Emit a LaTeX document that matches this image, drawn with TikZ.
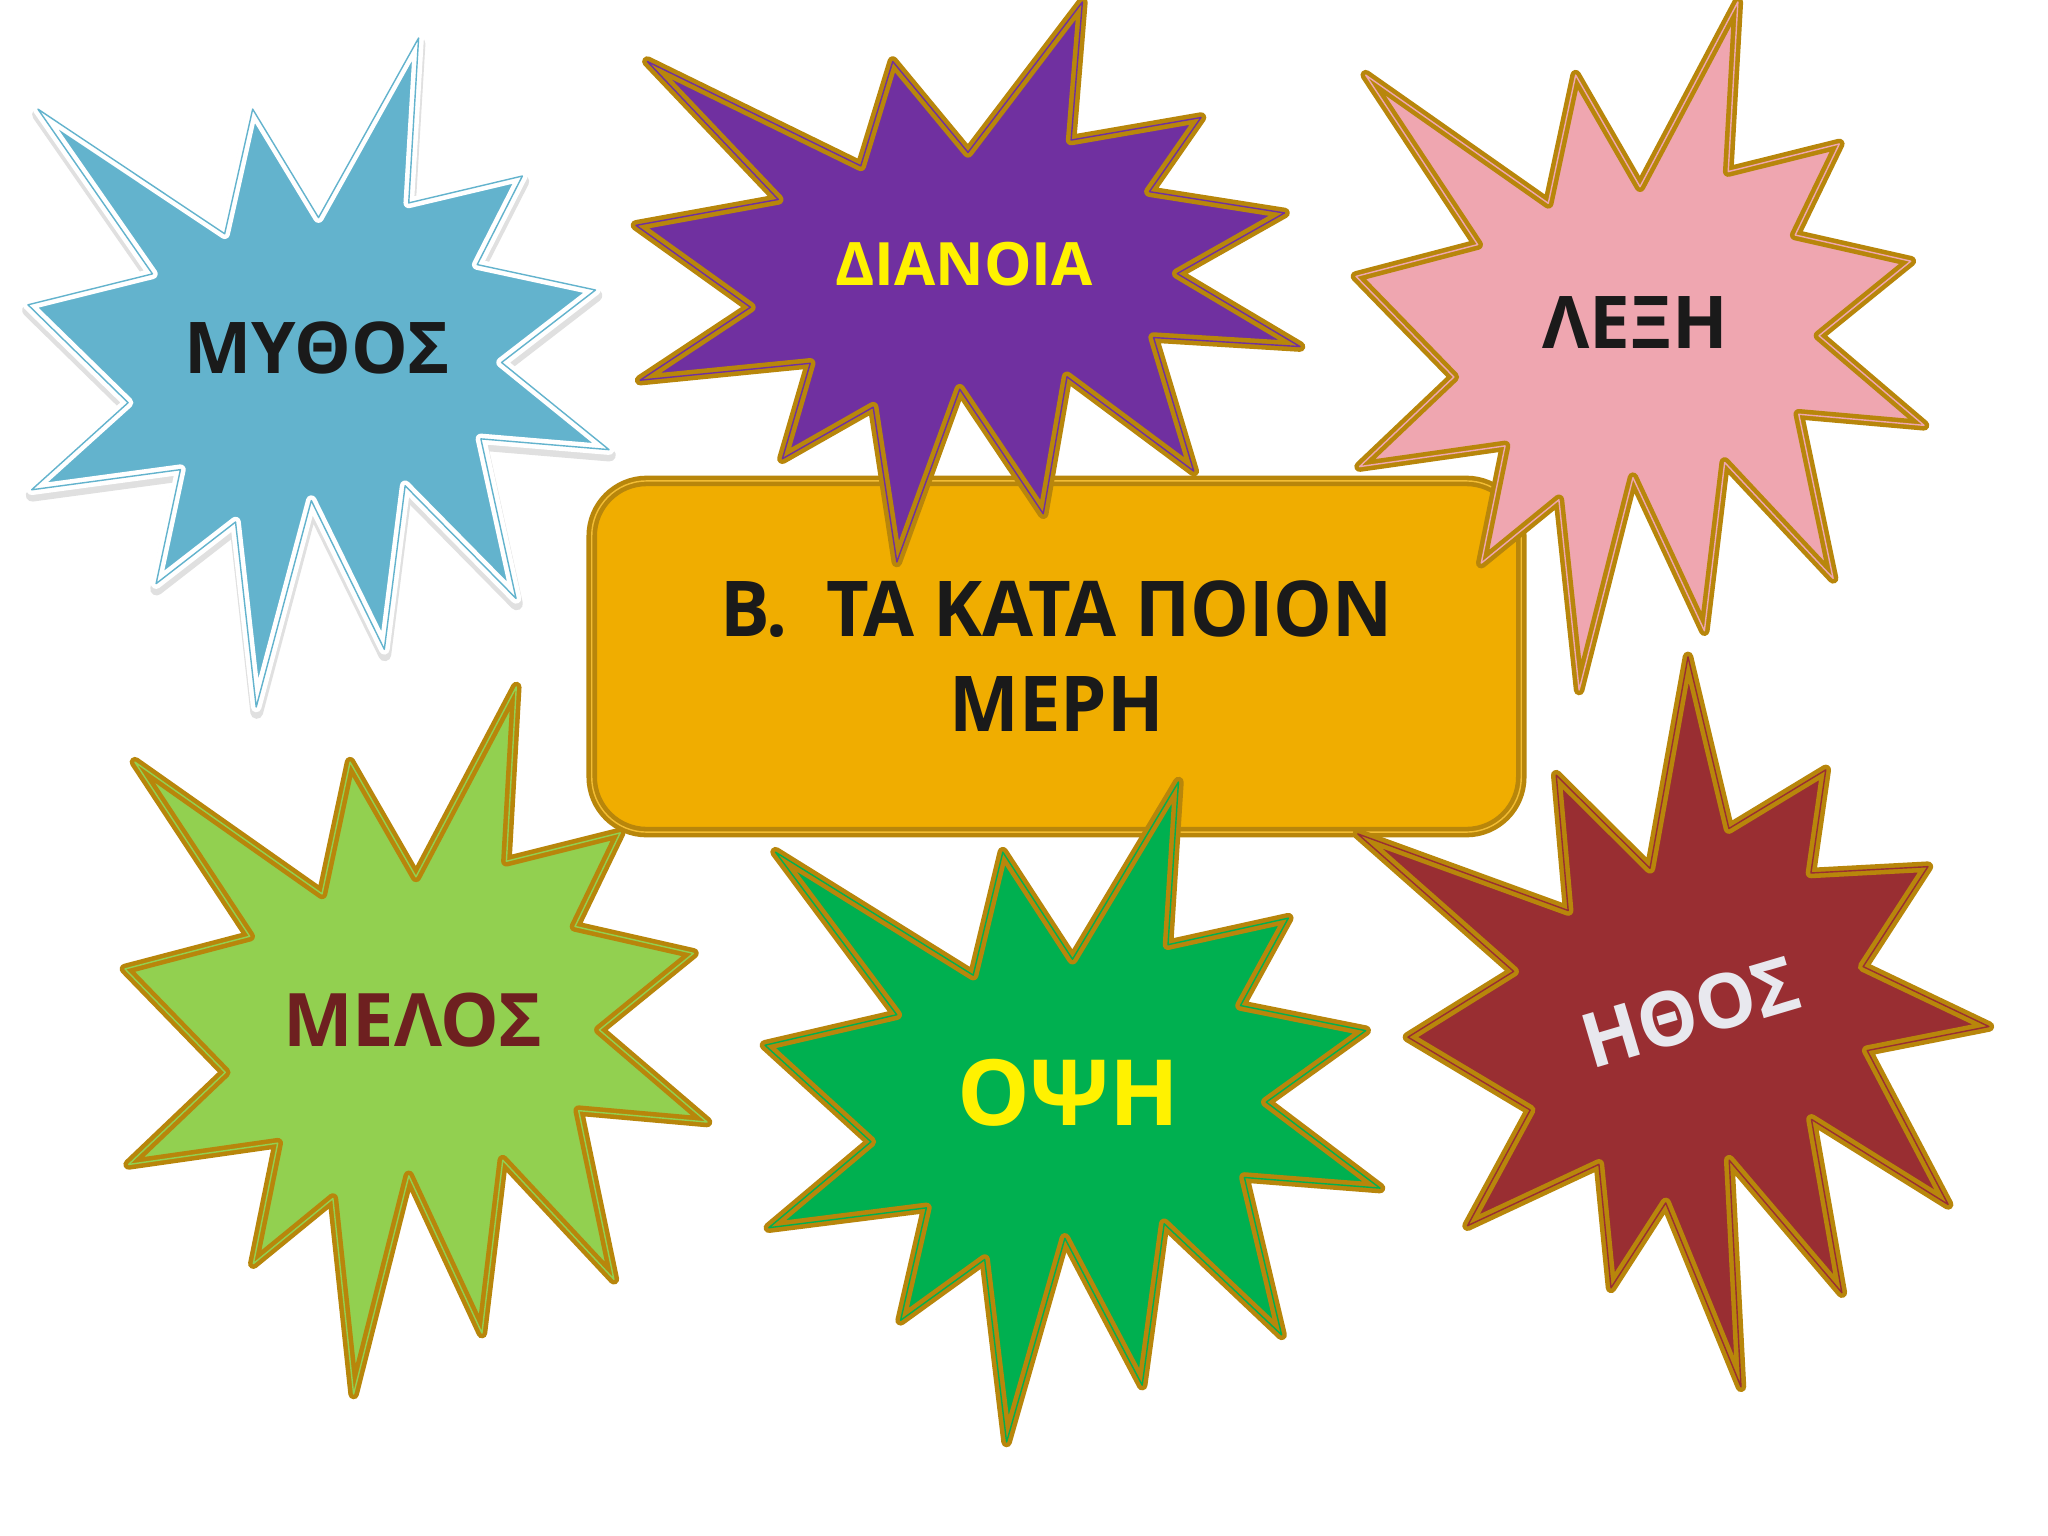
\documentclass[tikz,border=0pt]{standalone}
\usepackage{fontspec}
\setmainfont{Open Sans}
\newfontfamily\narrowfont{Open Sans}[FakeStretch=0.96]
\definecolor{goldline}{RGB}{184,134,11}
\definecolor{skyfill}{RGB}{99,179,205}
\definecolor{purplefill}{RGB}{112,48,160}
\definecolor{pinkfill}{RGB}{239,166,176}
\definecolor{limefill}{RGB}{146,208,80}
\definecolor{greenfill}{RGB}{0,176,80}
\definecolor{redfill}{RGB}{153,46,50}
\definecolor{boxfill}{RGB}{240,173,0}
\definecolor{darkred}{RGB}{110,32,32}
\definecolor{paleword}{RGB}{232,232,238}
\definecolor{inkword}{RGB}{26,26,26}
\tikzset{
  burst/.pic={
    \path[pic actions] (0,-23.15)--(17.23,-50)--(15.53,-25.35)--(35.09,-29.37)--(27.32,-16.13)--(47.67,-12.33)
      --(31.51,-1.50)--(50,11.53)--(27.95,9.92)--(34,33.77)--(14.91,16.93)--(11.33,41.38)--(-1.24,19.14)
      --(-10.72,50)--(-14.28,22.35)--(-27.95,31.56)--(-23.76,14.52)--(-49.37,17.53)--(-32.77,4.51)
      --(-50,-10.12)--(-28.58,-14.74)--(-48.29,-39.37)--(-16.15,-20.74)--(-11.33,-39.37)--cycle;
  }
}
\begin{document}
\begin{tikzpicture}[x=0.01cm, y=-0.01cm, line join=round,
  seal/.style={fill=#1, draw=goldline, double=#1, line width=1.3pt, double distance=0.4pt},
  word/.style={font=\bfseries\fontsize{#1}{#1}\selectfont, inner sep=0pt},
  titlebox/.style={seal=boxfill!80!white, fill=boxfill, rounded corners=0.55cm, minimum width=9.29cm, minimum height=3.51cm,
    align=center, text=inkword, font=\narrowfont\bfseries\fontsize{21.9pt}{27pt}\selectfont}]
\fill[white] (0,0) rectangle (2048,1536);
\useasboundingbox (0,0) rectangle (2048,1536);
% centre box
\node[titlebox] (title) at (1056.5,656.5) {Β.~ ΤΑ ΚΑΤΑ ΠΟΙΟΝ\\ΜΕΡΗ};
% stars
\pic[draw=black!12, line width=3.6pt, xscale=5.81, yscale=6.69] at (319,378) {burst};
\pic[fill=skyfill, draw=white, double=skyfill, line width=1.3pt, double distance=0.4pt, xscale=5.81, yscale=6.69] at (318.5,372.5) {burst};
\node[word=20.3pt, text=inkword] (mythos) at (317,348) {ΜΥΘΟΣ};
\pic[seal=purplefill, xscale=6.64, yscale=5.60] at (968,282) {burst};
\node[word=17pt, text=yellow] (dianoia) at (964,264) {ΔΙΑΝΟΙΑ};
\pic[seal=pinkfill, xscale=5.68, yscale=6.88] at (1640,346) {burst};
\node[word=20.7pt, text=inkword] (lexi) at (1635,323) {ΛΕΞΗ};
\pic[seal=limefill, xscale=5.82, yscale=7.07] at (416,1040.5) {burst};
\node[word=21pt, text=darkred] (melos) at (413,1020) {ΜΕΛΟΣ};
\pic[seal=greenfill, xscale=6.15, yscale=6.60] at (1072.5,1112) {burst};
\node[word=26pt, text=yellow] (opsi) at (1068,1093) {ΟΨΗ};
\pic[seal=redfill, rotate=16.5, xscale=5.60, yscale=7.15] at (1697,1027) {burst};
\node[word=21.5pt, text=paleword, rotate=16.5] (ithos) at (1690,1012) {ΗΘΟΣ};
\end{tikzpicture}
\end{document}
